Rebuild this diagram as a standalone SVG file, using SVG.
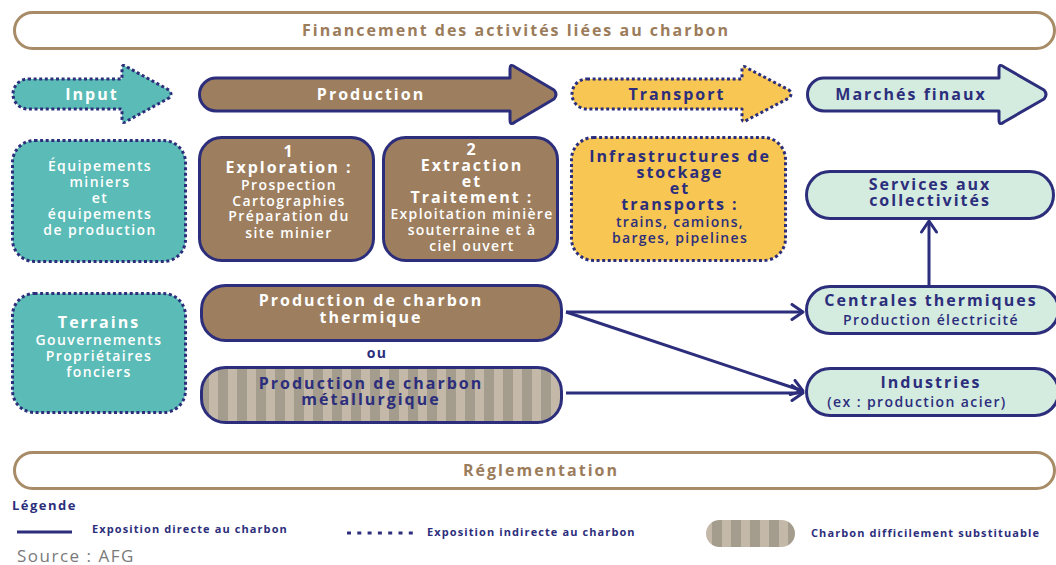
<svg xmlns="http://www.w3.org/2000/svg" width="1056" height="565" viewBox="0 0 1056 565">
<defs>
<style>
.t{font-family:"Open Sans","Liberation Sans",sans-serif;text-anchor:middle}
.b{font-weight:700}
.r{font-weight:600}
.w{fill:#ffffff}
.n{fill:#2c2e7c}
.tan{fill:#9b7c5b}
.h16{font-size:16px;letter-spacing:2px}
.h14{font-size:14px;letter-spacing:1.4px}
.h13{font-size:14px;letter-spacing:1.3px}
.banner{fill:#ffffff;stroke:#a88c68;stroke-width:3}
.solid{stroke:#2c2e7c;stroke-width:3;stroke-linejoin:round}
.dot{stroke:#2c2e7c;stroke-width:3;stroke-dasharray:3 2.6;stroke-linejoin:round}
.teal{fill:#5bbbb6}
.brown{fill:#9d7e5e}
.yellow{fill:#f8c652}
.mint{fill:#d4ebe0}
.conn{stroke:#2c2e7c;stroke-width:3;fill:none}
.leg{font-family:"Open Sans","Liberation Sans",sans-serif;font-size:11px;font-weight:700;fill:#2c2e7c;letter-spacing:1.1px}
</style>
<pattern id="stripes" patternUnits="userSpaceOnUse" width="19" height="10">
<rect width="19" height="10" fill="#c4b9a9"/>
<rect x="9" width="10" height="10" fill="#a49c8d"/>
</pattern>
<marker id="chev" markerUnits="userSpaceOnUse" markerWidth="16" markerHeight="18" refX="13" refY="9" orient="auto">
<path d="M2,1.5 L13,9 L2,16.5" fill="none" stroke="#2c2e7c" stroke-width="3" stroke-linejoin="round" stroke-linecap="round"/>
</marker>
</defs>

<g id="financement">
<rect class="banner" x="14.5" y="12.5" width="1040" height="36" rx="18"/>
<text class="t b tan h16" x="516" y="35.5">Financement des activités liées au charbon</text>
</g>

<g id="input">
<path class="teal dot" d="M28,79 H122 V69 Q122,63 127,67 L169,90 Q173,94 169,98 L127,121 Q122,125 122,119 V109 H28 A15,15 0 0 1 28,79 Z"/>
<text class="t b w h16" x="92" y="100">Input</text>
</g>
<g id="production">
<path class="brown solid" d="M216,78 H510 V69 Q510,63 515,67 L554,90 Q558,94.5 554,99 L515,122 Q510,126 510,120 V111 H216 A16.5,16.5 0 0 1 216,78 Z"/>
<text class="t b w h16" x="371" y="100">Production</text>
</g>
<g id="transport">
<path class="yellow dot" d="M587,79 H742 V70 Q742,64 747,68 L789,90 Q793,94 789,98 L747,120 Q742,124 742,118 V109 H587 A15,15 0 0 1 587,79 Z"/>
<text class="t b n h16" x="677" y="100">Transport</text>
</g>
<g id="marches">
<path class="mint solid" d="M824,78 H999 V69 Q999,63 1004,67 L1044,90 Q1048,94.5 1044,99 L1004,122 Q999,126 999,120 V111 H824 A16.5,16.5 0 0 1 824,78 Z"/>
<text class="t b n h16" x="911" y="100">Marchés finaux</text>
</g>

<g id="equipements">
<rect class="teal dot" x="12.5" y="140.5" width="173" height="121" rx="22"/>
<text class="t r w h14" x="100" y="171">Équipements</text>
<text class="t r w h14" x="100" y="187">miniers</text>
<text class="t r w h14" x="100" y="203">et</text>
<text class="t r w h14" x="100" y="219">équipements</text>
<text class="t r w h14" x="100" y="235">de production</text>
</g>
<g id="exploration">
<rect class="brown solid" x="199.5" y="137.5" width="174" height="123" rx="22"/>
<text class="t b w h16" x="289" y="157">1</text>
<text class="t b w h16" x="289" y="173">Exploration :</text>
<text class="t r w h14" x="289" y="190">Prospection</text>
<text class="t r w h14" x="289" y="206">Cartographies</text>
<text class="t r w h14" x="289" y="221">Préparation du</text>
<text class="t r w h14" x="289" y="238">site minier</text>
</g>
<g id="extraction">
<rect class="brown solid" x="383.5" y="137.5" width="174" height="123" rx="22"/>
<text class="t b w h16" x="472" y="155">2</text>
<text class="t b w h16" x="472" y="171">Extraction</text>
<text class="t b w h16" x="472" y="187">et</text>
<text class="t b w h16" x="472" y="203">Traitement :</text>
<text class="t r w h13" x="472" y="219">Exploitation minière</text>
<text class="t r w h13" x="472" y="235">souterraine et à</text>
<text class="t r w h13" x="472" y="251">ciel ouvert</text>
</g>
<g id="infrastructures">
<rect class="yellow dot" x="571.5" y="137.5" width="214" height="123" rx="22"/>
<text class="t b n h16" x="680" y="162">Infrastructures de</text>
<text class="t b n h16" x="680" y="178">stockage</text>
<text class="t b n h16" x="680" y="194">et</text>
<text class="t b n h16" x="680" y="210">transports :</text>
<text class="t r n h13" x="680" y="227">trains, camions,</text>
<text class="t r n h13" x="680" y="243">barges, pipelines</text>
</g>
<g id="services">
<rect class="mint solid" x="806.5" y="171.5" width="247" height="47" rx="23.5"/>
<text class="t b n h16" x="930" y="190">Services aux</text>
<text class="t b n h16" x="930" y="206">collectivités</text>
</g>

<g id="terrains">
<rect class="teal dot" x="12.5" y="293.5" width="173" height="119" rx="22"/>
<text class="t b w h16" x="99" y="328">Terrains</text>
<text class="t r w h14" x="99" y="345">Gouvernements</text>
<text class="t r w h14" x="99" y="361">Propriétaires</text>
<text class="t r w h14" x="99" y="377">fonciers</text>
</g>
<g id="thermique">
<rect class="brown solid" x="201.5" y="285.5" width="360" height="55" rx="24"/>
<text class="t b w h16" x="371" y="306">Production de charbon</text>
<text class="t b w h16" x="371" y="323">thermique</text>
</g>
<g id="ou">
<text class="t b n h14" x="377" y="358">ou</text>
</g>
<g id="metallurgique">
<rect class="solid" fill="url(#stripes)" x="201.5" y="367.5" width="360" height="55" rx="24"/>
<text class="t b n h16" x="371" y="389">Production de charbon</text>
<text class="t b n h16" x="371" y="405">métallurgique</text>
</g>
<g id="centrales">
<rect class="mint solid" x="806.5" y="286.5" width="252" height="47" rx="23.5"/>
<text class="t b n h16" x="931" y="306">Centrales thermiques</text>
<text class="t r n h14" x="931" y="325">Production électricité</text>
</g>
<g id="industries">
<rect class="mint solid" x="806.5" y="368.5" width="252" height="47" rx="23.5"/>
<text class="t b n h16" x="931" y="388">Industries</text>
<text class="t r n h14" x="917" y="407">(ex : production acier)</text>
</g>

<g id="connectors">
<line class="conn" x1="566" y1="312" x2="803" y2="312" marker-end="url(#chev)"/>
<line class="conn" x1="566" y1="312" x2="803" y2="391" marker-end="url(#chev)"/>
<line class="conn" x1="566" y1="393" x2="803" y2="393" marker-end="url(#chev)"/>
<line class="conn" x1="929" y1="286" x2="929" y2="221" marker-end="url(#chev)"/>
</g>

<g id="reglementation">
<rect class="banner" x="14.5" y="452.5" width="1040" height="36" rx="18"/>
<text class="t b tan h16" x="541" y="476">Réglementation</text>
</g>

<g id="legende">
<text class="leg" x="12" y="510" style="font-size:13px;letter-spacing:1.5px">Légende</text>
<line x1="17" y1="532" x2="72" y2="532" stroke="#2c2e7c" stroke-width="3"/>
<text class="leg" x="92" y="533">Exposition directe au charbon</text>
<line x1="347" y1="533" x2="413" y2="533" stroke="#2c2e7c" stroke-width="3" stroke-dasharray="4 6.3"/>
<text class="leg" x="427" y="536">Exposition indirecte au charbon</text>
<rect x="706" y="520" width="89" height="27" rx="13.5" fill="url(#stripes)"/>
<text class="leg" x="811" y="537">Charbon difficilement substituable</text>
<text x="17" y="562" font-family="'Open Sans','Liberation Sans',sans-serif" font-size="17" fill="#7a7a7a" letter-spacing="1.5">Source : AFG</text>
</g>
</svg>
